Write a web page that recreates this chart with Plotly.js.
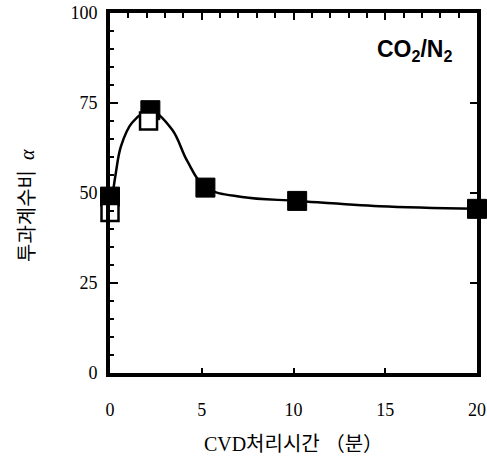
<!DOCTYPE html>
<html>
<head>
<meta charset="utf-8">
<script src="https://cdn.plot.ly/plotly-3.0.1.min.js"></script>
<style>html,body{margin:0;padding:0;background:#fff;}#chart{width:487px;height:466px;}</style>
</head>
<body>
<div id="chart"></div>
<script>
// Filled squares (measured)
const filledX = [0, 2.2, 5.2, 10.2, 20];
const filledY = [49, 73, 51.5, 47.8, 45.6];
// Open squares (measured)
const openX = [0, 2.1];
const openY = [44.6, 70];
// Fitted curve
const curveX = [0, 0.3, 0.6, 1.2, 2.2, 3.4, 4.2, 5.2, 7.2, 10.2, 14.7, 20];
const curveY = [44, 55, 63, 69.5, 73, 67.5, 59, 51.5, 48.9, 47.8, 46.3, 45.6];
const xTicks = [0, 5, 10, 15, 20];
const yTicks = [0, 25, 50, 75, 100];
const xTitle = 'CVD처리시간 （분）';
const yTitle = '투과계수비  <i>α</i>';
const label = '<b>CO<sub>2</sub>/N<sub>2</sub></b>';

const traces = [
  {x: curveX, y: curveY, mode: 'lines', line: {shape: 'spline', smoothing: 1, color: '#000', width: 2.5}, hoverinfo: 'skip', cliponaxis: false},
  {x: filledX, y: filledY, mode: 'markers', marker: {symbol: 'square', size: 19, color: '#000', line: {color: '#000', width: 1}}, cliponaxis: false},
  {x: openX, y: openY, mode: 'markers', marker: {symbol: 'square', size: 17, color: '#fff', line: {color: '#000', width: 2.5}}, cliponaxis: false},
  {x: filledX, y: filledY, xaxis: 'x2', yaxis: 'y2', mode: 'none', hoverinfo: 'skip'}
];

const axisFont = {family: 'Liberation Serif, serif', size: 18, color: '#000'};
const titleFamily = 'Liberation Serif, Noto Sans CJK KR, serif';
const layout = {
  width: 487, height: 466,
  margin: {l: 110, r: 10, t: 13, b: 93},
  paper_bgcolor: '#fff', plot_bgcolor: '#fff',
  showlegend: false,
  xaxis: {
    range: [0, 20], tickvals: xTicks, ticktext: xTicks.map(String),
    ticks: 'inside', ticklen: 5, tickwidth: 2, tickcolor: '#000',
    showline: true, linewidth: 4, linecolor: '#000', mirror: false,
    showgrid: false, zeroline: false, tickfont: axisFont, ticklabelstandoff: 17,
    title: {text: xTitle, font: {family: titleFamily, size: 20, color: '#000'}, standoff: 19}
  },
  xaxis2: {
    range: [0, 20], overlaying: 'x', side: 'top', tickvals: xTicks, showticklabels: false,
    ticks: 'inside', ticklen: 7, tickwidth: 2, tickcolor: '#000',
    minor: {dtick: 1, ticks: 'inside', ticklen: 5, tickwidth: 2, tickcolor: '#000'},
    showline: true, linewidth: 4, linecolor: '#000', showgrid: false, zeroline: false
  },
  yaxis: {
    range: [0, 100], tickvals: yTicks, ticktext: yTicks.map(String),
    ticks: 'inside', ticklen: 8, tickwidth: 2, tickcolor: '#000',
    minor: {dtick: 5, ticks: 'inside', ticklen: 4, tickwidth: 2, tickcolor: '#000'},
    showline: true, linewidth: 4, linecolor: '#000', mirror: false,
    showgrid: false, zeroline: false, tickfont: axisFont, ticklabelstandoff: 5
  },
  yaxis2: {
    range: [0, 100], overlaying: 'y', side: 'right', tickvals: yTicks, showticklabels: false,
    ticks: 'inside', ticklen: 7, tickwidth: 2, tickcolor: '#000',
    showline: true, linewidth: 4, linecolor: '#000', showgrid: false, zeroline: false
  },
  annotations: [
    {text: label, xref: 'paper', yref: 'paper', x: 0.831, y: 0.897, xanchor: 'center', yanchor: 'middle', showarrow: false,
     font: {family: 'Liberation Sans, Arial, sans-serif', size: 23, color: '#000'}},
    {text: yTitle, xref: 'paper', yref: 'paper', x: -0.226, y: 0.464, xanchor: 'center', yanchor: 'middle', textangle: -90, showarrow: false,
     font: {family: titleFamily, size: 20, color: '#000'}}
  ]
};
Plotly.newPlot('chart', traces, layout, {staticPlot: true, displayModeBar: false});
</script>
</body>
</html>
